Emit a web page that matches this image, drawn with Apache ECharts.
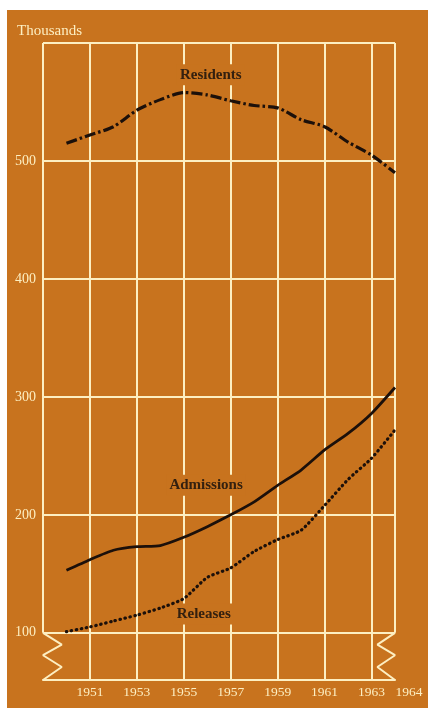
<!DOCTYPE html>
<html><head><meta charset="utf-8">
<script src="https://cdn.jsdelivr.net/npm/echarts@6/dist/echarts.min.js"></script>
<style>
html,body{margin:0;padding:0;background:#ffffff;width:430px;height:711px;overflow:hidden;}
#c{position:absolute;left:7px;top:10px;width:421px;height:698px;}
</style></head>
<body><div id="c"></div>
<script>
const years = [1950,1951,1952,1953,1954,1955,1956,1957,1958,1959,1960,1961,1962,1963,1964];
const residents  = [515,522,529,543,552,558,556,551,547,545,535,529,516,505,490];
const admissions = [153,162,170,173,174,181,190,200,211,225,238,255,269,286,308];
const releases   = [101,105,110,115,121,129,147,155,169,179,187,208,230,248,272];
const xTickLabels = [1951,1953,1955,1957,1959,1961,1963,1964];
const xGridValues = [1951,1953,1955,1957,1959,1961,1963];
const yTickLabels = [100,200,300,400,500];
const yGridValues = [100,200,300,400,500,600];
const seriesNames = ['Residents','Admissions','Releases'];
const labelAt = {Residents:[1956.15,573], Admissions:[1955.95,225], Releases:[1955.85,116]};

const ORANGE = '#c8731e';
const CREAM = '#fdefc2';
const INK = '#1c100a';
const FONT = '"Liberation Serif", "DejaVu Serif", serif';

const zip = (a,b) => a.map((v,i)=>[v,b[i]]);

const gridLineData = []
  .concat(yGridValues.map(v => ({yAxis:v})))
  .concat(xGridValues.map(v => ({xAxis:v})))
  .concat([
    [{coord:[1949,100]},{coord:[1949,600]}],
    [{coord:[1964,100]},{coord:[1964,600]}]
  ]);

// axis-break zigzags (in data units)
const breakLeft  = [[1949,100],[1949.8,90],[1949,81],[1949.8,71],[1949,60]];
const breakRight = [[1964,100],[1963.25,90],[1964,81],[1963.25,71],[1964,60]];

function nameLabel(name){
  return {
    symbol:'circle', symbolSize:1, silent:true,
    itemStyle:{color:'rgba(0,0,0,0)'},
    label:{show:true, position:'inside', formatter:name, color:'#33200f',
      fontFamily:FONT, fontSize:15, fontWeight:'bold', backgroundColor:ORANGE, padding:[3,3]},
    data:[{coord:labelAt[name], name:name}]
  };
}

const chart = echarts.init(document.getElementById('c'), null, {renderer:'canvas'});
chart.setOption({
  backgroundColor: ORANGE,
  animation:false,
  graphic:[{type:'text', left:10, top:14, style:{text:'Thousands', fill:CREAM, font:'15px "Liberation Serif", serif'}}],
  grid:{left:36, top:33, right:33, bottom:28},
  xAxis:{type:'value', min:1949, max:1964,
    splitLine:{show:false}, axisTick:{show:false},
    axisLine:{show:true, lineStyle:{color:CREAM, width:2}},
    axisLabel:{customValues:xTickLabels, color:CREAM, fontFamily:FONT, fontSize:13.5, margin:5,
      formatter: v => v===1964 ? '{r|1964}' : String(v),
      rich:{r:{color:CREAM, fontFamily:FONT, fontSize:13.5, padding:[0,0,0,28]}}}
  },
  yAxis:{type:'value', min:60, max:600,
    splitLine:{show:false}, axisTick:{show:false}, axisLine:{show:false},
    axisLabel:{customValues:yTickLabels, color:CREAM, fontFamily:FONT, fontSize:14, margin:7}
  },
  series:[
    {type:'line', name:'grid', data:[], z:1, silent:true,
      markLine:{silent:true, symbol:['none','none'], label:{show:false},
        lineStyle:{color:CREAM, width:2, type:'solid'}, data:gridLineData}},
    {type:'line', name:'breakL', data:breakLeft, z:1, symbol:'none', silent:true,
      lineStyle:{color:CREAM, width:2}},
    {type:'line', name:'breakR', data:breakRight, z:1, symbol:'none', silent:true,
      lineStyle:{color:CREAM, width:2}},
    {type:'line', name:seriesNames[0], data:zip(years,residents), z:5, symbol:'none', smooth:0.25,
      lineStyle:{color:INK, width:3.2, type:[11,3,2.5,3]}, markPoint:nameLabel('Residents')},
    {type:'line', name:seriesNames[1], data:zip(years,admissions), z:5, symbol:'none', smooth:0.2,
      lineStyle:{color:INK, width:2.8}, markPoint:nameLabel('Admissions')},
    {type:'line', name:seriesNames[2], data:zip(years,releases), z:5, symbol:'none', smooth:0.2,
      lineStyle:{color:INK, width:3.2, type:[0.5,4.5], cap:'round'}, markPoint:nameLabel('Releases')}
  ]
});
</script></body></html>
